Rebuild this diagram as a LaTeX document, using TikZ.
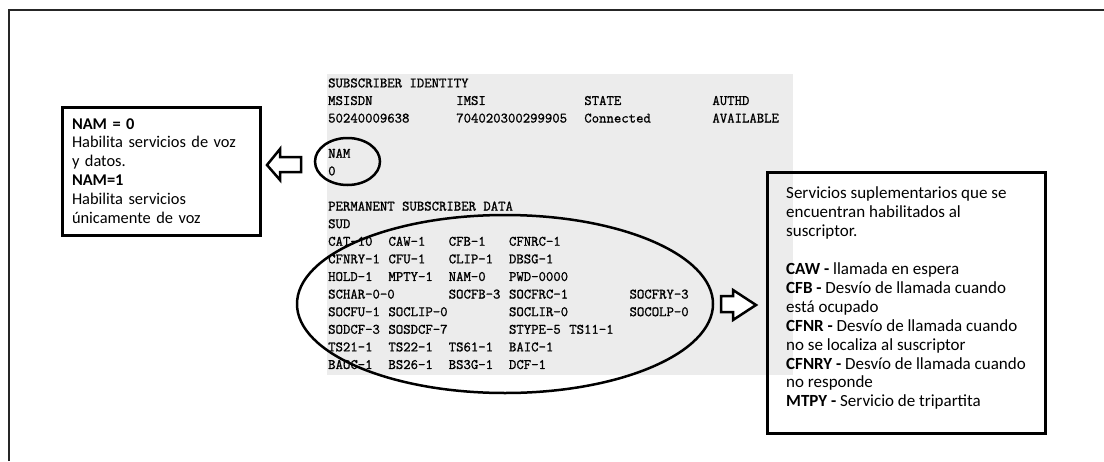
\documentclass[tikz,border=0pt]{standalone}
\usepackage{fontspec}
\setmainfont{Carlito}
\newfontfamily\consolefont{Latin Modern Mono}[FakeBold=1.2]
\definecolor{panelgray}{RGB}{236,236,236}
\newlength\cw
\setlength\cw{7.534pt}
\newcommand\tcol[2]{\makebox[#1\cw][l]{#2}}

\begin{document}
\begin{tikzpicture}[x=1pt,y=-1pt,
	notebox/.style={draw,line width=3pt,inner sep=0pt,align=left,font=\fontsize{17}{18.9}\selectfont},
	ring/.style={line width=2.5pt},
	blockarrow/.style={line width=2.5pt,line join=miter,fill=white}]
	\useasboundingbox (0,0) rectangle (1104,461);
	\draw[line width=2pt,black!85] (9,461) -- (9,10) -- (1104,10);
	
	% console output
	\fill[panelgray] (327,74) rectangle (793,375);
	\node[anchor=north west,inner sep=0pt,align=left,font=\consolefont\fontsize{14.35}{17.6}\selectfont] (hlr) at (328,78.2) {%
		SUBSCRIBER IDENTITY\\
		\tcol{17}{MSISDN}\tcol{17}{IMSI}\tcol{17}{STATE}AUTHD\\
		\tcol{17}{50240009638}\tcol{17}{704020300299905}\tcol{17}{Connected}AVAILABLE\\
		\mbox{}\\
		NAM\\
		0\\
		\mbox{}\\
		PERMANENT SUBSCRIBER DATA\\
		SUD\\
		\tcol8{CAT-10}\tcol8{CAW-1}\tcol8{CFB-1}CFNRC-1\\
		\tcol8{CFNRY-1}\tcol8{CFU-1}\tcol8{CLIP-1}DBSG-1\\
		\tcol8{HOLD-1}\tcol8{MPTY-1}\tcol8{NAM-0}PWD-0000\\
		\tcol{16}{SCHAR-0-0}\tcol8{SOCFB-3}\tcol{16}{SOCFRC-1}SOCFRY-3\\
		\tcol8{SOCFU-1}\tcol{16}{SOCLIP-0}\tcol{16}{SOCLIR-0}SOCOLP-0\\
		\tcol8{SODCF-3}\tcol{16}{SOSDCF-7}\tcol8{STYPE-5}TS11-1\\
		\tcol8{TS21-1}\tcol8{TS22-1}\tcol8{TS61-1}BAIC-1\\
		\tcol8{BAOC-1}\tcol8{BS26-1}\tcol8{BS3G-1}DCF-1};
	
	% rings
	\draw[ring] (347.5,161.5) ellipse [x radius=32.5, y radius=23.5];
	\draw[ring] (505,304) ellipse [x radius=208, y radius=89];
	
	% notes
	\node[notebox,font=\fontsize{16.4}{18.9}\selectfont,minimum width=198,minimum height=128,text width=178] (nambox) at (161,171) {%
		\textbf{NAM = 0}\\
		Habilita servicios de voz\\
		y datos.\\
		\textbf{NAM=1}\\
		Habilita servicios\\
		únicamente de voz};
	\node[notebox,minimum width=278,minimum height=261] (ssbox) at (906,302.5) {%
		Servicios suplementarios que se\\
		encuentran habilitados al\\
		suscriptor.\\
		\mbox{}\\
		\textbf{CAW -} llamada en espera\\
		\textbf{CFB -} Desvío de llamada cuando\\
		está ocupado\\
		\textbf{CFNR -} Desvío de llamada cuando\\
		no se localiza al suscriptor\\
		\textbf{CFNRY -} Desvío de llamada cuando\\
		no responde\\
		\textbf{MTPY -} Servicio de tripartita\rule[-11pt]{0pt}{11pt}};
	
	% arrows
	\draw[blockarrow] (267,165) -- (280,149) -- (280,157) -- (301,157) -- (301,172) -- (280,172) -- (280,180) -- cycle;
	\draw[blockarrow] (721,296) -- (733,296) -- (733,290) -- (756,305) -- (733,320) -- (733,312) -- (721,312) -- cycle;
\end{tikzpicture}
\end{document}
